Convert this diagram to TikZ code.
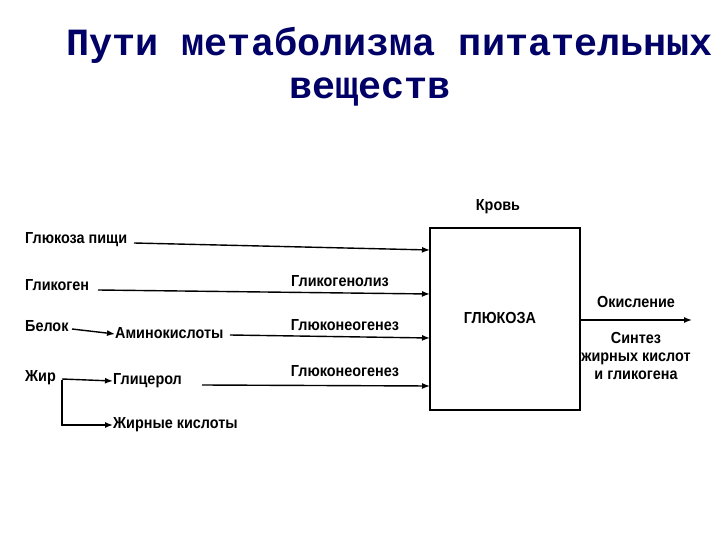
\documentclass[tikz,border=0pt]{standalone}
\usepackage{fontspec}
\setmainfont{Liberation Sans}
\newfontfamily\titlefont{Liberation Mono}
\usetikzlibrary{arrows.meta}
\begin{document}
\begin{tikzpicture}[x=1pt,y=-1pt,
  lbl/.style={inner sep=0pt,font=\bfseries\fontsize{16}{18}\selectfont,xscale=0.9},
  ln/.style={line width=1.4pt},
  arr/.style={ln,-{Latex[length=8pt,width=6pt]}}]
\useasboundingbox (0,0) rectangle (720,540);
\node[font=\titlefont\bfseries\fontsize{38.5}{40}\selectfont,text=blue!40!black,inner sep=0pt,anchor=west] (t1) at (66,45) {Пути метаболизма питательных};
\node[font=\titlefont\bfseries\fontsize{38.5}{40}\selectfont,text=blue!40!black,inner sep=0pt] (t2) at (370,92) {веществ};
\node[draw,line width=1.4pt,minimum width=150pt,minimum height=182pt,inner sep=0pt] (box) at (505,319) {};
\node[lbl] (glu) at (500,318) {ГЛЮКОЗА};
\node[lbl] (krov) at (498,207) {Кровь};
% row 1
\node[lbl,anchor=west] (gp) at (25,240) {Глюкоза пищи};
\coordinate (s1) at (134,243);
\coordinate (e1) at (430,250);
\draw[arr] (s1) -- (e1);
% row 2
\node[lbl,anchor=west] (gk) at (25,285) {Гликоген};
\coordinate (s2) at (98,290);
\coordinate (e2) at (430,294);
\draw[arr] (s2) -- (e2);
\node[lbl] (gl) at (340,281) {Гликогенолиз};
% row 3
\node[lbl,anchor=west] (bel) at (25,326) {Белок};
\node[lbl,anchor=west] (am) at (115,333) {Аминокислоты};
\coordinate (s3a) at (72,329);
\draw[arr] (s3a) -- ([yshift=-1pt]am.west);
\coordinate (s3) at (230,335);
\coordinate (e3) at (430,338);
\draw[arr] (s3) -- (e3);
\node[lbl] (gn1) at (345,325) {Глюконеогенез};
% row 4
\node[lbl,anchor=west] (zh) at (25,378) {Жир};
\node[lbl,anchor=west] (gc) at (113,381) {Глицерол};
\coordinate (s4a) at (62,379);
\draw[arr] (s4a) -- (gc.west);
\coordinate (s4) at (202,385);
\coordinate (e4) at (430,386);
\draw[arr] (s4) -- (e4);
\node[lbl] (gn2) at (345,371) {Глюконеогенез};
\node[lbl,anchor=west] (zk) at (113,425) {Жирные кислоты};
\coordinate (br) at (62,380);
\draw[arr] (br) |- (zk.west);
% output
\coordinate (out) at (692,320);
\draw[arr] (box.east |- out) -- (out);
\node[lbl] (ok) at (636,302) {Окисление};
\node[lbl,align=center] (sy) at (636,356) {Синтез\\жирных кислот\\и гликогена};
\end{tikzpicture}
\end{document}
